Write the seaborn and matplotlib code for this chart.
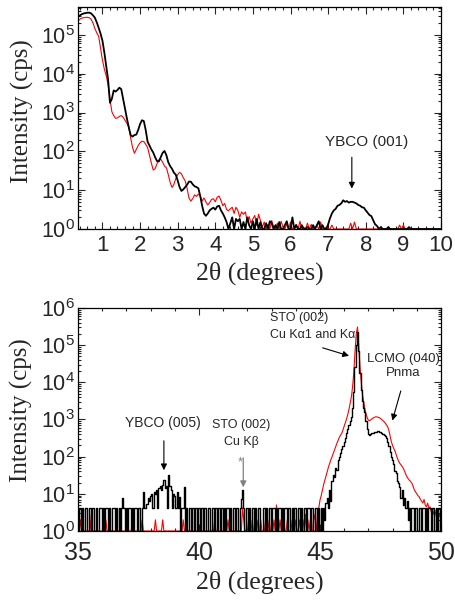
import numpy as np
import pandas as pd
import matplotlib
matplotlib.use("Agg")
import matplotlib.pyplot as plt
import matplotlib.ticker as mticker
import seaborn as sns

# --- low angle scan (XRR), 0.35..10.00 deg, 0.05 deg step, values are log10(cps)
xrr_start, xrr_stop, xrr_step = 0.35, 10.0, 0.05
xrr_black = [
    5.46, 5.50, 5.53, 5.55, 5.56, 5.57, 5.57, 5.55, 5.50, 5.44, 5.32, 5.18, 5.03,
    4.85, 4.55, 4.20, 3.85, 3.25, 3.35, 3.57, 3.54, 3.58, 3.64, 3.60, 3.35, 3.10, 2.85, 2.62, 2.42, 2.38, 2.42, 2.43, 2.55,
    2.70, 2.80, 2.78, 2.55, 2.25, 2.15, 2.05, 1.97, 1.85, 1.75, 1.74, 1.85, 1.96, 2.01, 1.90, 1.72, 1.62, 1.55, 1.45, 1.40,
    1.25, 1.08, 0.98, 1.02, 1.08, 1.14, 1.22, 1.22, 1.15, 1.10, 1.08, 1.05, 0.85, 0.60, 0.40, 0.34, 0.40, 0.48, 0.52, 0.55,
    0.50, 0.58, 0.60, 0.48, 0.40, 0.30, 0.18, 0.00, 0.15, 0.30, 0.00, 0.26, 0.20, 0.26, 0.00, 0.18, 0.00, 0.30, 0.10, 0.00,
    0.20, 0.00, 0.26, 0.00, 0.18, 0.00, 0.00, 0.15, 0.00, 0.20, 0.15, 0.00, 0.10, 0.00, 0.18, 0.00, 0.00, 0.10, 0.20, 0.00,
    0.00, 0.30, 0.00, 0.10, 0.00, 0.00, 0.10, 0.00, 0.00, 0.05, 0.00, 0.00, 0.10, 0.00, 0.10, 0.20, 0.00, 0.10, 0.00, 0.00,
    0.12, 0.28, 0.40, 0.48, 0.52, 0.60, 0.62, 0.66, 0.74, 0.70, 0.72, 0.68, 0.70, 0.70, 0.68, 0.66, 0.62, 0.60, 0.56, 0.55,
    0.48, 0.42, 0.36, 0.33, 0.22, 0.12, 0.08, 0.00, 0.05, 0.00, 0.00, 0.00, 0.05, 0.00, 0.00, 0.00, 0.00, 0.00, 0.00, 0.00,
    0.00, 0.00, 0.00, 0.05, 0.00, 0.00, 0.00, 0.00, 0.00, 0.00, 0.00, 0.00, 0.00, 0.00, 0.00, 0.00, 0.00, 0.00, 0.00, 0.00,
    0.00,
]
xrr_red = [
    5.36, 5.40, 5.43, 5.44, 5.45, 5.45, 5.44, 5.40, 5.30, 5.16, 5.05, 4.96, 4.65,
    4.35, 4.12, 3.95, 3.72, 3.35, 3.02, 2.92, 2.85, 2.86, 2.90, 2.92, 2.88, 2.80, 2.72, 2.62, 2.35, 2.10, 1.95, 2.05, 2.15,
    2.22, 2.26, 2.25, 2.18, 2.10, 1.90, 1.70, 1.52, 1.55, 1.68, 1.78, 1.80, 1.72, 1.62, 1.58, 1.40, 1.20, 1.07, 1.15, 1.30,
    1.40, 1.46, 1.42, 1.32, 1.24, 1.05, 0.80, 0.72, 0.78, 0.88, 0.84, 0.90, 0.85, 0.72, 0.80, 0.70, 0.62, 0.68, 0.76, 0.78,
    0.70, 0.82, 0.85, 0.74, 0.60, 0.66, 0.50, 0.47, 0.52, 0.56, 0.40, 0.56, 0.48, 0.30, 0.44, 0.38, 0.44, 0.20, 0.32, 0.15,
    0.26, 0.35, 0.10, 0.38, 0.22, 0.05, 0.18, 0.00, 0.12, 0.00, 0.22, 0.05, 0.00, 0.15, 0.00, 0.20, 0.05, 0.00, 0.12, 0.00,
    0.18, 0.00, 0.00, 0.12, 0.00, 0.20, 0.00, 0.05, 0.00, 0.15, 0.00, 0.12, 0.00, 0.00, 0.10, 0.00, 0.18, 0.00, 0.00, 0.05,
    0.00, 0.00, 0.10, 0.00, 0.00, 0.00, 0.00, 0.00, 0.00, 0.00, 0.00, 0.00, 0.15, 0.00, 0.18, 0.00, 0.00, 0.00, 0.00, 0.00,
    0.00, 0.00, 0.00, 0.00, 0.00, 0.00, 0.00, 0.00, 0.00, 0.00, 0.00, 0.00, 0.00, 0.00, 0.00, 0.00, 0.00, 0.00, 0.10, 0.00,
    0.10, 0.00, 0.00, 0.00, 0.00, 0.00, 0.00, 0.00, 0.00, 0.00, 0.00, 0.00, 0.00, 0.00, 0.00, 0.00, 0.00, 0.00, 0.00, 0.00,
    0.00,
]

# --- high angle scan (XRD), 35.00..50.00 deg, 0.05 deg step, log10(cps)
xrd_start, xrd_stop, xrd_step = 35.0, 50.0, 0.05
xrd_black = [
    0, .62, .62, 0, .62, 0, .62, .62, 0, 0, .62, 0, .62, .62, 0, .62, 0, 0, .62, .62,
    0, .62, 0, .62, .62, 0, .62, 0, 0, .62, .62, 0, .62, 0, .62, 0, .62, .89, .62, 0,
    .62, 0, .62, .62, 0, .62, 0, .62, .62, 0, .62, .62, 0, .62, 1.06, .62, .62, .72, .9, .82,
    .95, 1.0, .62, 1.05, 1.0, 1.1, .62, 1.15, 1.2, 1.1, 1.25, 1.37, 1.15, 1.2, .62, 1.5, 1.2, 1.1, .62, 1.0,
    .95, .62, 1.05, .62, .91, 0, .62, .62, 1.18, 0, .62, 0, .62, .62, 0, .62, 0, .62, .62, 0,
    .62, 0, .62, .62, 0, .62, 0, 0, .62, .62, 0, .62, .62, 0, .62, 0, .62, .62, 0, .62,
    0, .62, 0, .62, .62, 0, .62, 0, 0, .62, 0, .62, .62, 0, .62, .85, 1.1, .62, 0, .62,
    .62, 0, .62, 0, .62, .62, 0, .62, 0, .62, .62, 0, 0, .62, .62, 0, .62, 0, .62, .62,
    0, .62, .62, 0, .62, 0, .62, .62, 0, .62, 0, .62, .62, 0, .62, .62, 0, .62, 0, .62,
    .62, 0, .62, .62, 0, .62, 0, .62, .62, 0, .62, .62, 0, .62, .62, 0, .62, .62, 0, .62,
    0, .62, 0, .62, .3, .75, .9, .62, 1.1, .8, 1.35, 1.5, 1.45, 1.7, 1.65, 1.9, 2.0, 2.1, 2.2, 2.3,
    2.4, 2.5, 2.63, 2.75, 2.85, 2.95, 3.07, 3.3, 3.75, 4.4, 5.0, 5.36, 4.85, 4.25, 3.8, 3.5, 3.3, 3.2, 2.95, 2.75,
    2.62, 2.58, 2.6, 2.63, 2.64, 2.66, 2.65, 2.67, 2.68, 2.67, 2.65, 2.64, 2.6, 2.58, 2.55, 2.5, 2.4, 2.28, 2.12, 2.0,
    1.91, 1.8, 1.62, 1.55, 1.35, 1.3, 1.19, .9, 1.1, .7, .9, .62, .8, .3, .62, 0, .62, .62, 0, .62,
    .62, 0, .62, .62, 0, .62, .62, 0, .62, 0, .62, .62, 0, .62, .62, 0, .62, 0, .62, .62,
    0,
]
xrd_red = [
    0, 0, .3, 0, 0, 0, 0, 0, 0, 0, 0, .45, 0, 0, 0, 0, 0, 0, 0, 0,
    0, 0, 0, .3, 0, 0, 0, 0, 0, 0, 0, 0, 0, 0, 0, 0, 0, 0, 0, 0,
    0, 0, 0, 0, 0, .3, 0, 0, 0, 0, 0, 0, 0, .3, 0, 0, 0, 0, 0, 0,
    0, 0, 0, 0, .3, 0, 0, 0, 0, 0, .3, 0, 0, 0, 0, 0, 0, 0, 0, 0,
    0, 0, 0, 0, 0, 0, 0, .3, 0, 0, 0, 0, 0, 0, 0, 0, 0, 0, 0, 0,
    0, 0, 0, 0, 0, 0, 0, 0, 0, 0, 0, 0, 0, .3, 0, 0, 0, 0, 0, 0,
    0, 0, 0, 0, .3, 0, 0, 0, 0, 0, 0, 0, 0, 0, 0, 0, .62, .3, 0, 0,
    0, .3, 0, 0, .3, 0, 0, 0, .3, 0, 0, .3, 0, 0, 0, .3, 0, 0, .3, 0,
    0, 0, .3, 0, .7, 0, 0, .3, 0, 0, .3, 0, 0, .3, 0, 0, 0, .3, 0, 0,
    .3, 0, 0, .3, 0, 0, .3, 0, .45, 0, .3, 0, .3, 0, 0, .45, .3, 0, .45, .62,
    .83, .95, 1.1, 1.25, 1.37, 1.5, 1.6, 1.72, 1.82, 1.92, 2.0, 2.09, 2.18, 2.27, 2.36, 2.44, 2.52, 2.58, 2.63, 2.72,
    2.82, 2.92, 3.02, 3.14, 3.28, 3.45, 3.62, 3.9, 4.3, 4.85, 5.3, 5.49, 5.0, 4.45, 4.05, 3.7, 3.5, 3.3, 3.15, 3.05,
    2.98, 2.97, 2.99, 3.02, 3.04, 3.06, 3.07, 3.07, 3.06, 3.05, 3.03, 3.0, 2.97, 2.94, 2.9, 2.85, 2.8, 2.7, 2.55, 2.4,
    2.3, 2.22, 2.15, 2.05, 1.95, 1.88, 1.82, 1.78, 1.73, 1.68, 1.6, 1.52, 1.45, 1.4, 1.36, 1.33, 1.28, 1.2, 1.1, 1.05,
    1.0, .95, .92, .85, .8, .75, .85, .7, .65, .75, .62, .65, .5, .6, .45, .55, .4, .5, .35, .45,
    .38,
]


def make_frame(start, stop, step, black, red):
    x = np.round(np.arange(start, stop + step / 2, step), 2)
    assert len(x) == len(black) == len(red)
    df = pd.DataFrame({"two_theta": np.concatenate([x, x]),
                       "intensity": 10 ** np.concatenate([red, black]),
                       "sample": ["red"] * len(x) + ["black"] * len(x)})
    return df


xrr = make_frame(xrr_start, xrr_stop, xrr_step, xrr_black, xrr_red)
xrd = make_frame(xrd_start, xrd_stop, xrd_step, xrd_black, xrd_red)

sns.set_style("ticks")
plt.rcParams["font.family"] = ["Liberation Sans", "DejaVu Sans"]
plt.rcParams["axes.linewidth"] = 0.9
serif = ["Liberation Serif", "DejaVu Serif"]

fig = plt.figure(figsize=(4.55, 6.0), dpi=100)
ax1 = fig.add_axes([0.1714, 0.6183, 0.7978, 0.370])
ax2 = fig.add_axes([0.1714, 0.1150, 0.7978, 0.3717])

# red scan drawn first, black on top; bottom panel black is counting noise -> steps
for ax, df, lw_black, dstyle in [(ax1, xrr, 1.3, "default"), (ax2, xrd, 1.0, "steps-mid")]:
    sns.lineplot(data=df[df["sample"] == "red"], x="two_theta", y="intensity",
                 color="#ff0000", lw=0.8, estimator=None, ax=ax)
    sns.lineplot(data=df[df["sample"] == "black"], x="two_theta", y="intensity",
                 color="black", lw=lw_black, estimator=None, drawstyle=dstyle, ax=ax)
    ax.set_yscale("log")
    ax.yaxis.set_major_locator(mticker.LogLocator(base=10, numticks=12))
    ax.yaxis.set_minor_locator(mticker.LogLocator(base=10, subs=np.arange(2, 10), numticks=12))
    ax.yaxis.set_minor_formatter(mticker.NullFormatter())
    ax.tick_params(which="both", direction="in", top=True, right=True, width=0.8)
    ax.tick_params(which="major", length=5)
    ax.tick_params(which="minor", length=2.5)
    ax.tick_params(axis="y", labelsize=15.5, pad=2)
    ax.set_ylabel("Intensity (cps)", fontsize=18, family=serif)
    ax.set_xlabel("2θ (degrees)", fontsize=18.5, family=serif, labelpad=4)
    for s in ax.spines.values():
        s.set_color("black")

# top panel
ax1.set_xlim(0.35, 10)
ax1.set_ylim(1, 5.2e5)
ax1.xaxis.set_major_locator(mticker.MultipleLocator(1))
ax1.xaxis.set_minor_locator(mticker.MultipleLocator(0.2))
ax1.tick_params(axis="x", labelsize=16, pad=4)
ax1.yaxis.set_label_coords(-0.122, 0.53)
ax1.annotate("", xy=(7.63, 10 ** 0.97), xytext=(7.63, 10 ** 1.92),
             arrowprops=dict(arrowstyle="-|>", color="black", lw=0.8, mutation_scale=9))
ax1.text(8.02, 10 ** 2.23, "YBCO (001)", fontsize=11, ha="center", va="center")

# bottom panel
ax2.set_xlim(35, 50)
ax2.set_ylim(1, 1e6)
ax2.xaxis.set_major_locator(mticker.MultipleLocator(5))
ax2.xaxis.set_minor_locator(mticker.MultipleLocator(1))
ax2.tick_params(axis="x", labelsize=18, pad=7)
ax2.yaxis.set_label_coords(-0.124, 0.54)

ax2.text(38.51, 10 ** 2.90, "YBCO (005)", fontsize=10, ha="center", va="center")
ax2.annotate("", xy=(38.55, 10 ** 1.56), xytext=(38.55, 10 ** 2.5),
             arrowprops=dict(arrowstyle="-|>", color="black", lw=0.8, mutation_scale=9))

ax2.text(41.76, 10 ** 2.85, "STO (002)", fontsize=9, ha="center", va="center")
ax2.text(41.76, 10 ** 2.39, "Cu Kβ", fontsize=9, ha="center", va="center")
ax2.annotate("", xy=(41.83, 10 ** 1.10), xytext=(41.83, 10 ** 2.04),
             arrowprops=dict(arrowstyle="-|>", color="#808080", lw=0.9, mutation_scale=9))
ax2.text(41.72, 10 ** 1.85, "*", fontsize=9, color="#808080", ha="center", va="center")

ax2.text(42.93, 10 ** 5.73, "STO (002)", fontsize=9, ha="left", va="center")
ax2.text(42.93, 10 ** 5.27, "Cu Kα1 and Kα", fontsize=9, ha="left", va="center")
ax2.annotate("", xy=(46.31, 10 ** 4.69), xytext=(45.0, 10 ** 4.95),
             arrowprops=dict(arrowstyle="-|>", color="black", lw=0.8, mutation_scale=9))

ax2.text(48.43, 10 ** 4.62, "LCMO (040)", fontsize=9.5, ha="center", va="center")
ax2.text(48.43, 10 ** 4.25, "Pnma", fontsize=9.5, ha="center", va="center")
ax2.annotate("", xy=(47.96, 10 ** 2.90), xytext=(48.37, 10 ** 3.84),
             arrowprops=dict(arrowstyle="-|>", color="black", lw=0.8, mutation_scale=9))

fig.savefig("out.png", dpi=100)
